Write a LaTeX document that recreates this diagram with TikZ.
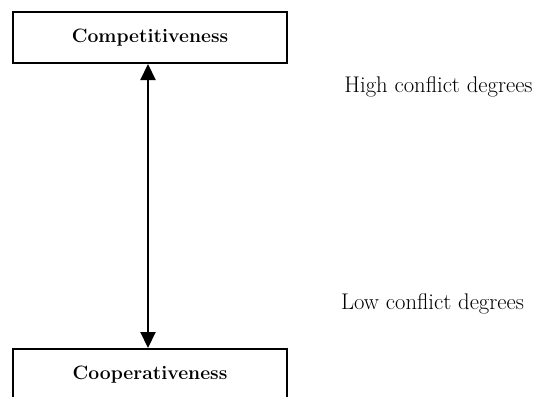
\documentclass[tikz,border=0pt]{standalone}
\usepackage{tikz}
\usetikzlibrary{arrows.meta, positioning}

\tikzset{
  levelbox/.style={draw=black, line width=1.5pt, fill=white, minimum width=205.5pt, minimum height=38.25pt, inner sep=0pt, font=\fontsize{14.5}{17}\selectfont\bfseries},
  degreelabel/.style={font=\fontsize{17}{20}\selectfont, inner sep=0pt},
  scalearrow/.style={line width=1.6pt, {Triangle[length=12pt, width=11.25pt]}-{Triangle[length=12pt, width=11.25pt]}}
}

\begin{document}
\begin{tikzpicture}[x=0.75pt, y=-0.75pt]
\useasboundingbox (0.000000,0.000000) rectangle (538.000000,396.000000);
\clip (0.000000,0.000000) rectangle (538.000000,396.000000);
% boxes
\node (compet) at (150.000000,37.500000) [levelbox] {Competitiveness};
\node (coop) at (150.000000,374.500000) [levelbox] {Cooperativeness};
% scale between them
\draw [scalearrow] ([xshift=-1.5pt]compet.south) -- ([xshift=-1.5pt]coop.north);
% side labels
\node (high) at (438.500000,87.000000) [degreelabel] {High conflict degrees};
\node (low) at (432.500000,304.000000) [degreelabel] {Low conflict degrees};
\end{tikzpicture}
\end{document}
